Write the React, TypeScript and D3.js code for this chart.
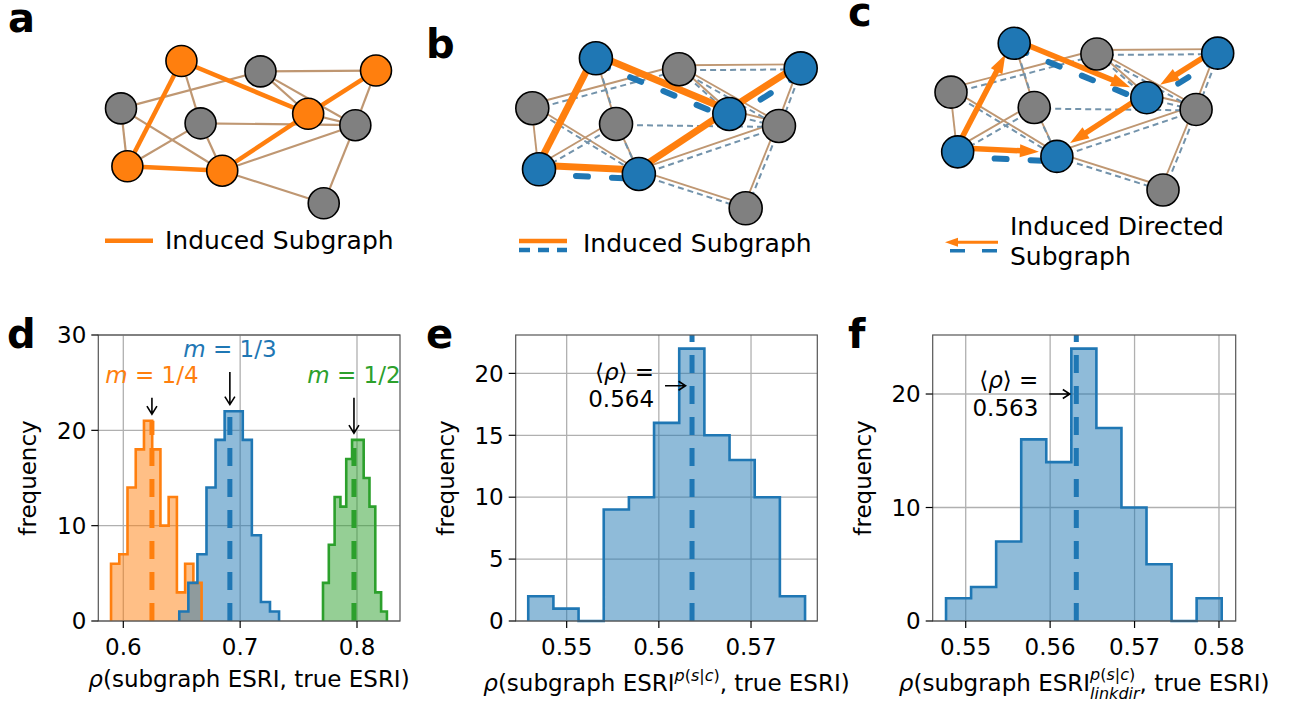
import React from "react";
import * as d3 from "d3";

const W = 1299;
const H = 709;
const FONT = "DejaVu Sans";
const BLUE = "#1f77b4";
const ORANGE = "#ff7f0e";
const GREEN = "#2ca02c";
const EDGE = "#bf9772";
const DASHED_EDGE = "#7393ab";
const NODE_GRAY = "#808080";

// ---------- histogram data ----------
const dOrangeCounts = [6, 7, 14, 18, 21, 18, 10, 13, 3, 6, 4];
const dOrangeRange = [0.5895, 0.667];
const dOrangeMean = 0.6245;
const dBlueCounts = [1, 4, 7, 14, 19, 22, 22, 19, 9, 2, 1];
const dBlueRange = [0.6479, 0.7333];
const dBlueMean = 0.6912;
const dGreenCounts = [4, 8, 13, 12, 17, 19, 19, 15, 12, 3, 1];
const dGreenRange = [0.7709, 0.8256];
const dGreenMean = 0.7974;
const dFractions = ["1/4", "1/3", "1/2"];
const dLabelHeights = [25.0, 27.7, 25.0];

const eCounts = [2, 1, 0, 9, 10, 16, 22, 15, 13, 10, 2];
const eRange = [0.54583, 0.57586];
const eMean = 0.5636;
const eArrowY = 19;

const fCounts = [2, 3, 7, 16, 14, 24, 17, 10, 5, 0, 2];
const fRange = [0.54767, 0.58032];
const fMean = 0.5631;
const fArrowY = 20;

const dXDomain = [0.5786, 0.8368];
const dYMax = 30;
const dXTicks = [0.6, 0.7, 0.8];
const dYTicks = [0, 10, 20, 30];
const eXDomain = [0.54447, 0.57719];
const eYMax = 23.1;
const eXTicks = [0.55, 0.56, 0.57];
const eYTicks = [0, 5, 10, 15, 20];
const fXDomain = [0.54609, 0.58198];
const fYMax = 25.2;
const fXTicks = [0.55, 0.56, 0.57, 0.58];
const fYTicks = [0, 10, 20];

// ---------- network data ----------
const nodeLayout: [number, number][] = [
  [0.237, 0.0],
  [0.547, 0.073],
  [1.0, 0.067],
  [0.0, 0.333],
  [0.312, 0.438],
  [0.734, 0.371],
  [0.919, 0.451],
  [0.025, 0.74],
  [0.397, 0.771],
  [0.795, 1.0],
];
const subgraphNodes = [0, 2, 5, 7, 8];
const graphEdges: [number, number][] = [
  [0, 4], [3, 1], [3, 7], [3, 8], [4, 7], [4, 8], [4, 6], [1, 2], [1, 5],
  [1, 6], [2, 6], [8, 6], [8, 9], [6, 9], [5, 6],
];
const inducedEdges: [number, number][] = [[0, 7], [0, 5], [7, 8], [8, 5], [5, 2]];
const secondInducedEdges: [number, number][] = [[0, 5], [5, 2], [7, 8]];
const directedEdges: [number, number][] = [[7, 0], [0, 5], [2, 5], [5, 8], [7, 8]];

// ---------- text helpers ----------
let measureCtx: CanvasRenderingContext2D | null = null;
function measure(t: string, size: number, italic = false) {
  if (!measureCtx) measureCtx = document.createElement("canvas").getContext("2d");
  if (!measureCtx) return t.length * size * 0.6;
  measureCtx.font = `${italic ? "italic " : ""}${size}px "${FONT}"`;
  return measureCtx.measureText(t).width;
}

type Run = { t: string; size?: number; italic?: boolean; dy?: number; alignTo?: number };

function RichText({ x, y, runs, anchor = "middle", fill = "#000" }: { x: number; y: number; runs: Run[]; anchor?: string; fill?: string }) {
  let cursor = 0;
  const starts: number[] = [];
  const placed = runs.map((r) => {
    const size = r.size ?? 23;
    const w = measure(r.t, size, r.italic);
    const start = r.alignTo !== undefined ? starts[r.alignTo] : cursor;
    starts.push(start);
    cursor = Math.max(cursor, start + w);
    return { ...r, size, start };
  });
  const off = anchor === "middle" ? -cursor / 2 : anchor === "end" ? -cursor : 0;
  return (
    <g fill={fill} fontFamily={FONT}>
      {placed.map((p, i) => (
        <text key={i} x={x + off + p.start} y={y + (p.dy ?? 0)} fontSize={p.size} fontStyle={p.italic ? "italic" : "normal"} style={{ whiteSpace: "pre" }}>
          {p.t}
        </text>
      ))}
    </g>
  );
}

function openArrow(x1: number, y1: number, x2: number, y2: number, len = 8, half = 4.5) {
  const dx = x2 - x1, dy = y2 - y1;
  const L = Math.hypot(dx, dy);
  const ux = dx / L, uy = dy / L;
  const bx = x2 - ux * len, by = y2 - uy * len;
  return `M${x1},${y1}L${x2},${y2}M${bx - uy * half},${by + ux * half}L${x2},${y2}L${bx + uy * half},${by - ux * half}`;
}

// ---------- histogram panel ----------
type Series = { counts: number[]; range: number[]; color: string; mean: number };
type Box = { l: number; r: number; t: number; b: number };

function HistPanel({ box, xDomain, yMax, xTicks, yTicks, xFmt, series, fullMean, children }: {
  box: Box; xDomain: number[]; yMax: number; xTicks: number[]; yTicks: number[]; xFmt: string;
  series: Series[]; fullMean: boolean; children?: (x: any, y: any) => React.ReactNode;
}) {
  const x = d3.scaleLinear().domain(xDomain).range([box.l, box.r]);
  const y = d3.scaleLinear().domain([0, yMax]).range([box.b, box.t]);
  const line = d3.line();
  const paths = series.map((s) => {
    const n = s.counts.length;
    const edges = d3.range(n + 1).map((i) => s.range[0] + ((s.range[1] - s.range[0]) * i) / n);
    const pts: [number, number][] = [[x(edges[0]), y(0)]];
    s.counts.forEach((c, i) => {
      pts.push([x(edges[i]), y(c)], [x(edges[i + 1]), y(c)]);
    });
    pts.push([x(edges[n]), y(0)]);
    return { s, d: line(pts) as string };
  });
  const fx = d3.format(xFmt);
  return (
    <g fontFamily={FONT}>
      <g stroke="#b0b0b0" strokeWidth={1.3}>
        {xTicks.map((t) => <line key={"gx" + t} x1={x(t)} x2={x(t)} y1={box.t} y2={box.b} />)}
        {yTicks.map((t) => <line key={"gy" + t} x1={box.l} x2={box.r} y1={y(t)} y2={y(t)} />)}
      </g>
      {paths.map(({ s, d }, i) => (
        <path key={"f" + i} d={d + "Z"} fill={s.color} fillOpacity={0.5} stroke="none" />
      ))}
      {paths.map(({ s, d }, i) => (
        <path key={"o" + i} d={d} fill="none" stroke={s.color} strokeWidth={2.6} strokeLinejoin="miter" />
      ))}
      {series.map((s, i) => (
        <line key={"m" + i} x1={x(s.mean)} x2={x(s.mean)} y1={y(0)} y2={fullMean ? box.t : y(d3.max(s.counts) as number)}
          stroke={s.color} strokeWidth={5} strokeDasharray="18 13" />
      ))}
      <rect x={box.l} y={box.t} width={box.r - box.l} height={box.b - box.t} fill="none" stroke="#555" strokeWidth={1.2} />
      <g stroke="#000" strokeWidth={1.2}>
        {xTicks.map((t) => <line key={"tx" + t} x1={x(t)} x2={x(t)} y1={box.b} y2={box.b + 7} />)}
        {yTicks.map((t) => <line key={"ty" + t} x1={box.l - 7} x2={box.l} y1={y(t)} y2={y(t)} />)}
      </g>
      <g fontSize={23} fill="#000">
        {xTicks.map((t) => <text key={"lx" + t} x={x(t)} y={box.b + 34} textAnchor="middle">{fx(t)}</text>)}
        {yTicks.map((t) => <text key={"ly" + t} x={box.l - 12} y={y(t)} dy="0.36em" textAnchor="end">{t}</text>)}
      </g>
      <text transform={`translate(${box.l - 62},${(box.t + box.b) / 2}) rotate(-90)`} textAnchor="middle" fontSize={23}>frequency</text>
      {children ? children(x, y) : null}
    </g>
  );
}

// ---------- network panel ----------
function Network({ x0, y0, w, h, r, variant }: { x0: number; y0: number; w: number; h: number; r: number; variant: "a" | "b" | "c" }) {
  const sx = d3.scaleLinear().domain([0, 1]).range([x0, x0 + w]);
  const sy = d3.scaleLinear().domain([0, 1]).range([y0, y0 + h]);
  const single = variant === "a";
  const mainOff = single ? [0, 0] : [-1, -4];
  const thinOff = [1, 1];
  const thickOff = [1, 5];
  const P = (i: number, o: number[]) => [sx(nodeLayout[i][0]) + o[0], sy(nodeLayout[i][1]) + o[1]];
  const seg = (e: [number, number], o: number[]) => {
    const a = P(e[0], o), b = P(e[1], o);
    return { x1: a[0], y1: a[1], x2: b[0], y2: b[1] };
  };
  const brown = single ? graphEdges : graphEdges.filter((e) => !(e[0] === 4 && e[1] === 6));
  const thinDashed = graphEdges.filter((e) => !(e[0] === 3 && e[1] === 7));
  const subColor = single ? ORANGE : BLUE;
  return (
    <g>
      {brown.map((e, i) => <line key={"b" + i} {...seg(e, mainOff)} stroke={EDGE} strokeWidth={single ? 2.2 : 1.9} />)}
      {!single && thinDashed.map((e, i) => (
        <line key={"t" + i} {...seg(e, thinOff)} stroke={DASHED_EDGE} strokeWidth={2} strokeDasharray="6 4" />
      ))}
      {!single && secondInducedEdges.map((e, i) => (
        <line key={"k" + i} {...seg(e, thickOff)} stroke={BLUE} strokeWidth={6} strokeDasharray="12 24" strokeLinecap="round" />
      ))}
      {variant !== "c" && inducedEdges.map((e, i) => (
        <line key={"o" + i} {...seg(e, mainOff)} stroke={ORANGE} strokeWidth={single ? 4.5 : 7} />
      ))}
      {variant === "c" && directedEdges.map((e, i) => {
        const a = P(e[0], mainOff), b = P(e[1], mainOff);
        const dx = b[0] - a[0], dy = b[1] - a[1];
        const L = Math.hypot(dx, dy);
        const ux = dx / L, uy = dy / L;
        const tip = [b[0] - ux * (r + 1), b[1] - uy * (r + 1)];
        const hl = 19, hw = 6.5;
        const base = [tip[0] - ux * hl, tip[1] - uy * hl];
        return (
          <g key={"d" + i}>
            <line x1={a[0]} y1={a[1]} x2={base[0] + ux * 2} y2={base[1] + uy * 2} stroke={ORANGE} strokeWidth={5.5} />
            <path d={`M${tip[0]},${tip[1]}L${base[0] - uy * hw},${base[1] + ux * hw}L${base[0] + uy * hw},${base[1] - ux * hw}Z`} fill={ORANGE} />
          </g>
        );
      })}
      {nodeLayout.map((_, i) => (
        <circle key={"n" + i} cx={sx(nodeLayout[i][0])} cy={sy(nodeLayout[i][1])} r={r}
          fill={subgraphNodes.includes(i) ? subColor : NODE_GRAY} stroke="#000" strokeWidth={1.6} />
      ))}
    </g>
  );
}

function PanelLetter({ x, y, t }: { x: number; y: number; t: string }) {
  return <text x={x} y={y} fontFamily={FONT} fontWeight="bold" fontSize={40}>{t}</text>;
}

const supRuns = (size: number, dy: number): Run[] => [
  { t: "p", size, italic: true, dy },
  { t: "(", size, dy },
  { t: "s", size, italic: true, dy },
  { t: "|", size, dy },
  { t: "c", size, italic: true, dy },
  { t: ")", size, dy },
];

export default function App() {
  const dSeries: Series[] = [
    { counts: dOrangeCounts, range: dOrangeRange, color: ORANGE, mean: dOrangeMean },
    { counts: dBlueCounts, range: dBlueRange, color: BLUE, mean: dBlueMean },
    { counts: dGreenCounts, range: dGreenRange, color: GREEN, mean: dGreenMean },
  ];
  const fmtMean = d3.format(".3f");
  const meanNote = (x: any, y: any, mean: number, ay: number) => {
    const head = x(mean) - 6.5;
    const tail = head - 20.5;
    const py = y(ay);
    return (
      <g>
        <path d={openArrow(tail, py, head, py, 7, 4.5)} stroke="#000" strokeWidth={1.6} fill="none" />
        <RichText x={tail - 11} y={py - 6} anchor="end" runs={[{ t: "⟨" }, { t: "ρ", italic: true }, { t: "⟩ =" }]} />
        <RichText x={tail - 11} y={py + 21.5} anchor="end" runs={[{ t: fmtMean(mean) }]} />
      </g>
    );
  };
  return (
    <svg width={W} height={H} viewBox={`0 0 ${W} ${H}`} style={{ position: "fixed", left: 0, top: 0, background: "#fff" }}>
      <rect width={W} height={H} fill="#fff" />

      {/* network schematics */}
      <PanelLetter x={8} y={32} t="a" />
      <Network x0={121} y0={61} w={255} h={142.3} r={15.5} variant="a" />
      <line x1={105} x2={153} y1={240.7} y2={240.7} stroke={ORANGE} strokeWidth={4.5} />
      <text x={165} y={248.5} fontFamily={FONT} fontSize={25}>Induced Subgraph</text>

      <PanelLetter x={426} y={58} t="b" />
      <Network x0={532.3} y0={58.3} w={268.4} h={150} r={16.5} variant="b" />
      <line x1={519} x2={567} y1={241} y2={241} stroke={ORANGE} strokeWidth={4.5} />
      <line x1={519} x2={567} y1={250} y2={250} stroke={BLUE} strokeWidth={4.5} strokeDasharray="11 8" />
      <text x={583} y={251.7} fontFamily={FONT} fontSize={25}>Induced Subgraph</text>

      <PanelLetter x={848} y={26} t="c" />
      <Network x0={951} y0={43.3} w={266.7} h={146.7} r={16} variant="c" />
      <line x1={998} x2={955} y1={242.3} y2={242.3} stroke={ORANGE} strokeWidth={3} />
      <path d="M945,242.3L958,237.8L958,246.8Z" fill={ORANGE} />
      <line x1={950} x2={998} y1={250.7} y2={250.7} stroke={BLUE} strokeWidth={3.5} strokeDasharray="15 17" />
      <text x={1010} y={235} fontFamily={FONT} fontSize={25}>Induced Directed</text>
      <text x={1010} y={265} fontFamily={FONT} fontSize={25}>Subgraph</text>

      {/* histogram d */}
      <PanelLetter x={7} y={348} t="d" />
      <HistPanel box={{ l: 98.3, r: 400, t: 335, b: 621 }} xDomain={dXDomain} yMax={dYMax} xTicks={dXTicks} yTicks={dYTicks}
        xFmt=".1f" series={dSeries} fullMean={false}>
        {(x, y) => (
          <g>
            {dSeries.map((s, i) => {
              const top = d3.max(s.counts) as number;
              const ly = y(dLabelHeights[i]);
              return (
                <g key={i}>
                  <path d={openArrow(x(s.mean), ly + 15, x(s.mean), y(top + 0.7), 8, 5)} stroke="#000" strokeWidth={1.6} fill="none" />
                  <RichText x={x(s.mean)} y={ly} fill={s.color} runs={[{ t: "m", italic: true }, { t: " = " + dFractions[i] }]} />
                </g>
              );
            })}
          </g>
        )}
      </HistPanel>
      <RichText x={249} y={687} runs={[{ t: "ρ", italic: true }, { t: "(subgraph ESRI, true ESRI)" }]} />

      {/* histogram e */}
      <PanelLetter x={426} y={348} t="e" />
      <HistPanel box={{ l: 515.7, r: 817.3, t: 335, b: 621 }} xDomain={eXDomain} yMax={eYMax} xTicks={eXTicks} yTicks={eYTicks}
        xFmt=".2f" series={[{ counts: eCounts, range: eRange, color: BLUE, mean: eMean }]} fullMean={true}>
        {(x, y) => meanNote(x, y, eMean, eArrowY)}
      </HistPanel>
      <RichText x={666.5} y={691} runs={[
        { t: "ρ", italic: true }, { t: "(subgraph ESRI" }, ...supRuns(16, -10), { t: ", true ESRI)" },
      ]} />

      {/* histogram f */}
      <PanelLetter x={848} y={348} t="f" />
      <HistPanel box={{ l: 932.7, r: 1235.7, t: 335, b: 621 }} xDomain={fXDomain} yMax={fYMax} xTicks={fXTicks} yTicks={fYTicks}
        xFmt=".2f" series={[{ counts: fCounts, range: fRange, color: BLUE, mean: fMean }]} fullMean={true}>
        {(x, y) => meanNote(x, y, fMean, fArrowY)}
      </HistPanel>
      <clipPath id="fLabelClip">
        <rect x={850} y={650} width={423} height={59} />
      </clipPath>
      <g clipPath="url(#fLabelClip)">
        <RichText x={1084.2} y={691} runs={[
          { t: "ρ", italic: true }, { t: "(subgraph ESRI" }, ...supRuns(16, -11),
          { t: "linkdir", size: 16, italic: true, dy: 8, alignTo: 2 }, { t: ", true ESRI)" },
        ]} />
      </g>
    </svg>
  );
}
